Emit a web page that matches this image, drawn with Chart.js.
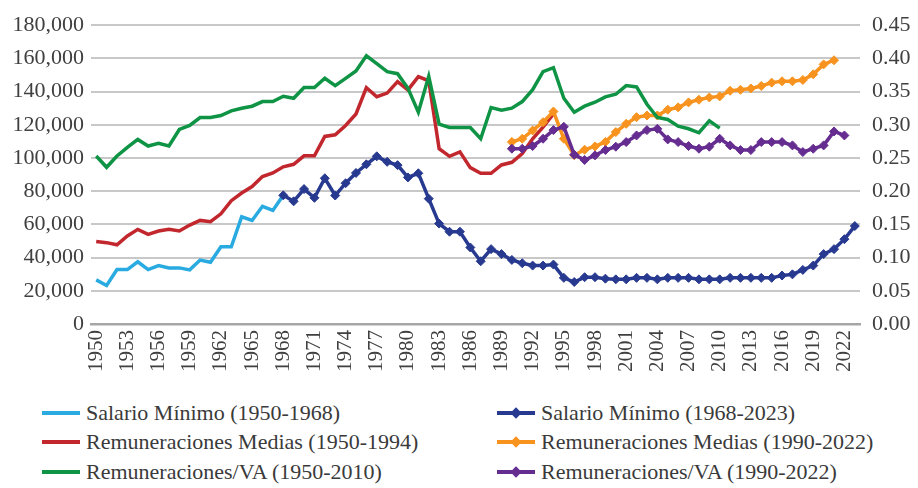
<!DOCTYPE html>
<html>
<head>
<meta charset="utf-8">
<script src="https://cdn.jsdelivr.net/npm/chart.js@4.4.1/dist/chart.umd.min.js"></script>
<style>
  html, body { margin: 0; padding: 0; background: #fff; }
  #wrap { position: relative; width: 918px; height: 488px; overflow: hidden; }
  #chartBox { position: absolute; left: 0; top: 0; width: 918px; height: 390px; }
  #legend {
    position: absolute; left: 42px; top: 398px;
    display: grid; grid-template-columns: 455px 420px; grid-auto-rows: 29.5px;
    font-family: "Liberation Serif", serif; font-size: 22px; color: #3a3a3a;
  }
  .item { display: flex; align-items: center; white-space: nowrap; }
  .sw { position: relative; width: 38px; height: 4px; margin-right: 6px; }
  .sw i { position: absolute; left: 15px; top: -2px; width: 8px; height: 8px; transform: rotate(45deg); }
</style>
</head>
<body>
<div id="wrap">
  <div id="chartBox"><canvas id="chart"></canvas></div>
  <div id="legend"></div>
</div>
<script>
const years = [1950,1951,1952,1953,1954,1955,1956,1957,1958,1959,
  1960,1961,1962,1963,1964,1965,1966,1967,1968,1969,
  1970,1971,1972,1973,1974,1975,1976,1977,1978,1979,
  1980,1981,1982,1983,1984,1985,1986,1987,1988,1989,
  1990,1991,1992,1993,1994,1995,1996,1997,1998,1999,
  2000,2001,2002,2003,2004,2005,2006,2007,2008,2009,
  2010,2011,2012,2013,2014,2015,2016,2017,2018,2019,
  2020,2021,2022,2023];

// Salario Mínimo (1950-1968)
const salarioMin1 = [26600,23200,32800,32800,37500,32800,35200,33800,33800,32600,
  38500,37200,46500,46500,64600,62400,70900,68400,77500];

// Salario Mínimo (1968-2023)
const salarioMin2 = [77500,73900,81300,76000,87800,77400,84800,91000,96200,101000,
  97700,95700,88300,90800,75500,60500,55600,55600,46100,37800,
  45100,42100,38600,36600,35200,35200,35800,27800,25300,28200,
  28200,27300,26900,26900,27800,27800,26900,27800,27800,27800,
  26900,26900,26900,27800,27800,27800,27800,27800,29200,29900,
  32600,35200,42100,45100,51100,59000];

// Remuneraciones Medias (1950-1994)
const remMedias1 = [49700,49000,47700,53000,57000,54000,56000,57000,56000,59600,
  62400,61600,66400,74300,78900,82800,88800,91000,94700,96200,
  101300,101300,113000,114000,119600,126500,142400,136900,139100,146000,
  141000,149000,146500,105600,101000,103700,94200,90800,90800,95800,
  97400,102700,111600,118600,126500];

// Remuneraciones Medias (1990-2022), last point plotted is 2021
const remMedias2 = [109700,111600,116600,121600,128000,111600,101700,105000,107000,109700,
  115600,120600,124600,125600,125600,129100,130500,133500,135100,136500,
  137100,140500,141100,141900,143400,145400,146200,146200,147000,150400,
  156400,158900];

// Remuneraciones/VA (1950-2010)
const remVA1 = [0.253,0.236,0.253,0.266,0.278,0.268,0.272,0.268,0.293,0.299,
  0.311,0.311,0.314,0.321,0.325,0.328,0.335,0.335,0.343,0.340,
  0.356,0.356,0.370,0.359,0.370,0.381,0.404,0.392,0.380,0.377,
  0.355,0.319,0.373,0.301,0.296,0.296,0.296,0.279,0.326,0.322,
  0.325,0.335,0.353,0.380,0.386,0.340,0.319,0.328,0.334,0.342,
  0.346,0.359,0.357,0.331,0.311,0.308,0.298,0.294,0.288,0.306,
  0.295];

// Remuneraciones/VA (1990-2022)
const remVA2 = [0.264,0.264,0.268,0.279,0.292,0.297,0.255,0.247,0.254,0.262,
  0.267,0.274,0.284,0.292,0.294,0.278,0.274,0.268,0.264,0.267,
  0.279,0.269,0.262,0.262,0.274,0.274,0.274,0.269,0.259,0.264,
  0.269,0.290,0.284];

const leftTicks = { min: 0, max: 180000, step: 20000 };
const rightTicks = { min: 0, max: 0.45, step: 0.05 };

function pad(start, values) {
  return years.map(y => {
    const i = y - start;
    return i >= 0 && i < values.length ? values[i] : null;
  });
}

const series = [
  { label: 'Salario Mínimo (1950-1968)', start: 1950, values: salarioMin1, color: '#29abe2', axis: 'y', marker: false, order: 6 },
  { label: 'Salario Mínimo (1968-2023)', start: 1968, values: salarioMin2, color: '#283a90', axis: 'y', marker: true, order: 5 },
  { label: 'Remuneraciones Medias (1950-1994)', start: 1950, values: remMedias1, color: '#c1272d', axis: 'y', marker: false, order: 4 },
  { label: 'Remuneraciones Medias (1990-2022)', start: 1990, values: remMedias2, color: '#f7931e', axis: 'y', marker: true, order: 3 },
  { label: 'Remuneraciones/VA (1950-2010)', start: 1950, values: remVA1, color: '#0f9445', axis: 'y2', marker: false, order: 2 },
  { label: 'Remuneraciones/VA (1990-2022)', start: 1990, values: remVA2, color: '#662d91', axis: 'y2', marker: true, order: 1 }
];

const tickFont = { family: '"Liberation Serif", serif', size: 22 };

new Chart(document.getElementById('chart'), {
  type: 'line',
  data: {
    labels: years,
    datasets: series.map(s => ({
      label: s.label,
      data: pad(s.start, s.values),
      yAxisID: s.axis,
      borderColor: s.color,
      backgroundColor: s.color,
      borderWidth: 3.5,
      tension: 0,
      pointStyle: 'rectRot',
      pointRadius: s.marker ? 4.5 : 0,
      pointBorderWidth: 1,
      pointBorderColor: s.color,
      pointBackgroundColor: s.color,
      order: s.order
    }))
  },
  options: {
    responsive: true,
    maintainAspectRatio: false,
    animation: false,
    devicePixelRatio: 1,
    layout: { padding: { top: 22, left: 0, right: 0, bottom: 0 } },
    plugins: { legend: { display: false }, tooltip: { enabled: false } },
    scales: {
      x: {
        offset: true,
        grid: { display: false, drawTicks: false },
        border: { display: true, color: '#a6a6a6', width: 2.5 },
        ticks: {
          autoSkip: false, minRotation: 90, maxRotation: 90, padding: 6,
          color: '#404040', font: { family: '"Liberation Serif", serif', size: 21 },
          callback: function (v, i) { return (years[i] - 1950) % 3 === 0 ? String(years[i]) : ''; }
        },
        afterFit: s => { s.height = 66; }
      },
      y: {
        position: 'left',
        min: leftTicks.min, max: leftTicks.max,
        border: { display: false },
        grid: { color: '#c8c8c8', lineWidth: 2, drawTicks: false },
        ticks: {
          stepSize: leftTicks.step, padding: 7, color: '#404040', font: tickFont,
          callback: v => v.toLocaleString('en-US')
        },
        afterFit: s => { s.width = 91; }
      },
      y2: {
        position: 'right',
        min: rightTicks.min, max: rightTicks.max,
        border: { display: false },
        grid: { display: false, drawTicks: false },
        ticks: {
          stepSize: rightTicks.step, padding: 12, color: '#404040', font: tickFont,
          callback: v => Number(v).toFixed(2)
        },
        afterFit: s => { s.width = 58; }
      }
    }
  }
});

// legend in two columns, same order as the reference
const legendOrder = [0, 1, 2, 3, 4, 5];
const legend = document.getElementById('legend');
legendOrder.forEach(k => {
  const s = series[k];
  const item = document.createElement('div');
  item.className = 'item';
  const sw = document.createElement('span');
  sw.className = 'sw';
  sw.style.background = s.color;
  if (s.marker) {
    const d = document.createElement('i');
    d.style.background = s.color;
    sw.appendChild(d);
  }
  item.appendChild(sw);
  item.appendChild(document.createTextNode(s.label));
  legend.appendChild(item);
});
</script>
</body>
</html>
